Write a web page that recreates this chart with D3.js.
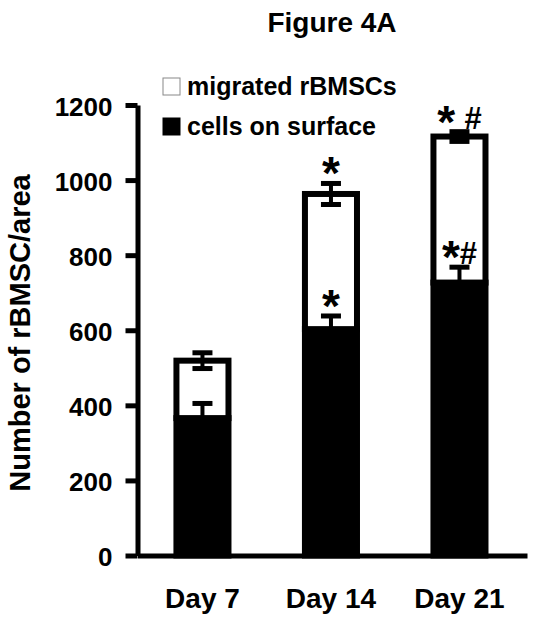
<!DOCTYPE html>
<html>
<head>
<meta charset="utf-8">
<script src="https://cdn.jsdelivr.net/npm/d3@7"></script>
<style>
  body { margin: 0; background: #ffffff; }
  svg text { font-family: Arial, "Liberation Sans", sans-serif; font-weight: bold; fill: #000; }
</style>
</head>
<body>
<script>
// values
const days = ["Day 7", "Day 14", "Day 21"];
const surface = [366, 603, 727];
const surfaceErr = [39, 35, 41];
const total = [519, 963, 1116];
const totalErr = [21, 28, 13];
const surfaceMarks = ["", "*", "*#"];
const totalMarks = ["", "*", "* #"];
const yTicks = [0, 200, 400, 600, 800, 1000, 1200];
const legendLabels = ["migrated rBMSCs", "cells on surface"];
const legendFills = ["#ffffff", "#000000"];

const svg = d3.select("body").append("svg")
    .attr("width", 536)
    .attr("height", 623);

const y = d3.scaleLinear().domain([0, 1200]).range([555.5, 105]);
const x = d3.scaleBand().domain(days)
    .range([137.5, 527])
    .paddingInner(0.595)
    .paddingOuter(0.313)
    .align(0.484);

// title
svg.append("text")
    .attr("x", 332)
    .attr("y", 32)
    .attr("text-anchor", "middle")
    .style("font-size", "28px")
    .text("Figure 4A");

// y axis title
svg.append("text")
    .attr("transform", "translate(30,333) rotate(-90)")
    .attr("text-anchor", "middle")
    .style("font-size", "29px")
    .text("Number of rBMSC/area");

// bars: black surface segment, white migrated segment on top
const rows = days.map((d, i) => ({
  day: d, surface: surface[i], sErr: surfaceErr[i], total: total[i], tErr: totalErr[i],
  sMark: surfaceMarks[i], tMark: totalMarks[i]
}));

svg.selectAll(".surf")
    .data(rows)
    .join("rect")
    .attr("class", "surf")
    .attr("x", d => x(d.day))
    .attr("y", d => y(d.surface))
    .attr("width", x.bandwidth())
    .attr("height", d => y(0) - y(d.surface))
    .attr("fill", "#000")
    .attr("stroke", "#000")
    .attr("stroke-width", 6);

svg.selectAll(".mig")
    .data(rows)
    .join("rect")
    .attr("class", "mig")
    .attr("x", d => x(d.day))
    .attr("y", d => y(d.total))
    .attr("width", x.bandwidth())
    .attr("height", d => y(d.surface) - y(d.total))
    .attr("fill", "#fff")
    .attr("stroke", "#000")
    .attr("stroke-width", 6);

// error bars
const errs = rows.flatMap(d => [
  {day: d.day, v: d.surface, e: d.sErr, mark: d.sMark},
  {day: d.day, v: d.total, e: d.tErr, mark: d.tMark}
]);
const cx = d => x(d.day) + x.bandwidth() / 2;

svg.selectAll(".err-stem")
    .data(errs)
    .join("line")
    .attr("class", "err-stem")
    .attr("x1", cx).attr("x2", cx)
    .attr("y1", d => y(d.v - d.e))
    .attr("y2", d => y(d.v + d.e))
    .attr("stroke", "#000")
    .attr("stroke-width", 4);

const caps = errs.flatMap(d => [{day: d.day, v: d.v + d.e}, {day: d.day, v: d.v - d.e}]);
svg.selectAll(".err-cap")
    .data(caps)
    .join("line")
    .attr("class", "err-cap")
    .attr("x1", d => cx(d) - 10).attr("x2", d => cx(d) + 10)
    .attr("y1", d => y(d.v)).attr("y2", d => y(d.v))
    .attr("stroke", "#000")
    .attr("stroke-width", 5);

// significance marks (* and #)
const marks = svg.selectAll(".mark")
    .data(errs.filter(d => d.mark !== ""))
    .join("text")
    .attr("class", "mark")
    .attr("text-anchor", "middle")
    .attr("x", cx)
    .attr("y", d => y(d.v + d.e) - 18 + 24);

marks.each(function(d) {
  const t = d3.select(this);
  let raised = false;
  for (const ch of d.mark) {
    if (ch === "*") {
      t.append("tspan").style("font-size", "46px").attr("dy", raised ? 9 : 0).text("*");
      raised = false;
    } else if (ch === "#") {
      t.append("tspan").style("font-size", "31px").attr("dy", raised ? 0 : -9).text("#");
      raised = true;
    } else {
      t.append("tspan").style("font-size", "34px").text(" ");
    }
  }
});

// axes
const yAxis = svg.append("g")
    .attr("transform", "translate(137.5,0)")
    .call(d3.axisLeft(y).tickValues(yTicks).tickFormat(d3.format("d"))
      .tickSize(12).tickSizeOuter(0).tickPadding(13));
yAxis.select(".domain").attr("stroke", "#000").attr("stroke-width", 5);
yAxis.selectAll(".tick line").attr("stroke", "#000").attr("stroke-width", 5);
yAxis.selectAll(".tick text")
    .attr("dy", "0.4em")
    .style("font-size", "26px")
    .style("font-family", "Arial, 'Liberation Sans', sans-serif");

const xAxis = svg.append("g")
    .attr("transform", "translate(0,555.5)")
    .call(d3.axisBottom(x).tickSize(0).tickSizeOuter(0).tickPadding(33));
xAxis.select(".domain").attr("stroke", "#000").attr("stroke-width", 5);
xAxis.selectAll(".tick text")
    .attr("dy", "0")
    .attr("y", 52)
    .style("font-size", "28px")
    .style("font-family", "Arial, 'Liberation Sans', sans-serif");

// legend
const legend = svg.selectAll(".legend")
    .data(legendLabels)
    .join("g")
    .attr("class", "legend")
    .attr("transform", (d, i) => `translate(163,${78 + i * 40})`);

legend.append("rect")
    .attr("width", 17)
    .attr("height", 17)
    .attr("fill", (d, i) => legendFills[i])
    .attr("stroke", (d, i) => i === 0 ? "#888" : "#000")
    .attr("stroke-width", 1);

legend.append("text")
    .attr("x", 24)
    .attr("y", 17)
    .style("font-size", "25px")
    .text(d => d);
</script>
</body>
</html>
